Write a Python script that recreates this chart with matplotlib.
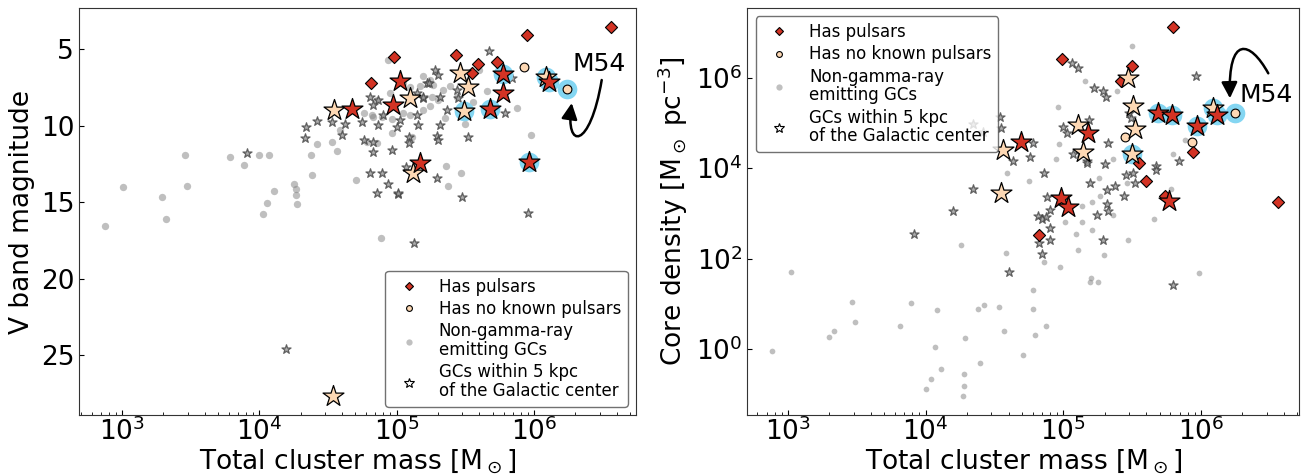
import matplotlib.pyplot as plt
from matplotlib.lines import Line2D
from matplotlib.patches import FancyArrowPatch
from matplotlib.path import Path

RED = '#d33324'
PEACH = '#fdd8b4'
HALO = '#84d6f2'

# ---------------- V band magnitude vs mass ----------------
# gamma-ray GCs with pulsars
v_psr_mass = [3.62e6, 8.85e5, 9.57e4, 2.69e5, 3.92e5, 5.36e5, 6.47e4, 3.52e5]
v_psr_mag = [3.54, 4.08, 5.50, 5.39, 5.98, 5.83, 7.20, 6.55]
# ... and within 5 kpc of the Galactic center
v_psr5_mass = [1.05e5, 4.75e4, 9.46e4, 1.48e5, 5.98e5, 5.89e5, 4.79e5, 1.29e6, 9.16e5]
v_psr5_mag = [7.09, 8.92, 8.66, 12.43, 6.63, 7.90, 8.94, 7.14, 12.41]
v_psr5_hl = [0, 0, 0, 0, 1, 0, 1, 1, 1]
# gamma-ray GCs without known pulsars
v_nop_mass = [8.51e5, 1.75e6]
v_nop_mag = [6.16, 7.61]
v_nop_hl = [0, 1]
v_nop5_mass = [3.52e4, 1.25e5, 2.90e5, 3.33e5, 3.11e5, 1.22e6, 1.32e5, 3.42e4]
v_nop5_mag = [8.99, 8.22, 6.59, 7.50, 9.05, 6.85, 13.13, 27.7]
v_nop5_hl = [0, 0, 0, 0, 1, 1, 0, 0]
# non gamma-ray GCs
v_gray_mass = [748, 1.02e3, 1.95e3, 2.09e3, 2.86e3, 2.97e3, 6.15e3, 7.69e3, 9.91e3,
               1.18e4, 1.27e4, 1.14e4, 1.06e4, 1.78e4, 1.85e4, 1.86e4, 1.89e4, 2.38e4,
               2.43e4, 2.62e4, 3.39e4, 3.66e4, 5.01e4, 7.62e4, 3.87e4, 7.16e4, 6.05e4,
               5.82e4, 6.76e4, 8.71e4, 9.25e4, 1.25e5, 1.29e5, 1.56e5, 1.48e5, 1.85e5,
               1.80e5, 1.75e5, 2.25e5, 2.45e5, 2.74e5, 3.62e5, 4.00e5, 4.53e5, 3.15e5,
               7.50e5, 9.53e5, 2.29e5, 2.94e5, 2.38e5, 6.58e4, 7.14e4, 8.93e4,
               1.12e5, 1.25e5, 1.32e5, 1.75e5, 1.12e5, 7.78e4, 9.20e4, 1.56e5, 2.01e5,
               2.18e5]
v_gray_mag = [16.55, 14.0, 14.65, 16.13, 11.9, 13.93, 12.04, 12.56, 11.9,
              11.9, 14.26, 15.07, 15.78, 13.82, 14.15, 14.56, 15.13, 11.9,
              13.24, 11.19, 11.1, 11.69, 13.58, 17.33, 10.29, 11.17, 11.06,
              9.2, 9.42, 5.72, 9.55, 9.31, 10.73, 6.76, 7.42, 7.35,
              8.12, 8.73, 9.53, 7.42, 8.12, 8.44, 6.37, 7.72, 9.9,
              8.88, 10.62, 12.65, 13.13, 13.93, 9.31, 8.33, 7.90,
              7.24, 7.50, 8.12, 7.03, 9.20, 9.42, 10.51, 8.99, 8.33,
              7.68]
v_gray5_mass = [8.18e3, 1.57e4, 2.16e4, 4.00e4, 5.73e4, 6.70e4, 6.76e4, 9.31e4, 6.37e4,
                7.83e4, 8.65e4, 7.16e4, 1.03e5, 2.18e4, 2.62e4, 3.40e4, 4.21e4, 6.40e4,
                7.36e4, 6.76e4, 5.57e4, 7.36e4, 7.93e4, 1.00e5, 1.06e5, 1.22e5, 1.17e5,
                1.44e5, 1.55e5, 1.66e5, 1.40e5, 4.71e5, 1.91e5, 2.01e5, 1.73e5, 2.07e5,
                2.74e5, 2.81e5, 2.32e5, 1.56e5, 1.40e5, 2.07e5, 1.96e5, 2.01e5, 3.30e5,
                6.17e5, 6.89e5, 1.22e5, 1.96e5, 2.98e5, 1.03e5, 9.06e5, 1.34e5]
v_gray5_mag = [11.8, 24.6, 10.8, 10.62, 10.95, 11.06, 11.71, 11.62, 13.08,
               13.1, 13.85, 14.43, 14.5, 10.12, 9.68, 9.75, 9.9, 8.12,
               8.33, 8.66, 9.75, 9.97, 9.31, 10.08, 9.64, 10.73, 12.69,
               9.97, 8.18, 7.24, 7.9, 5.11, 6.37, 6.7, 7.2, 8.12,
               7.68, 8.22, 8.99, 8.12, 9.31, 9.97, 10.69, 10.95, 10.73,
               9.2, 6.92, 11.12, 13.45, 14.7, 14.43, 15.7, 17.7]

# ---------------- core density vs mass ----------------
r_psr_mass = [6.28e5, 9.73e4, 3.18e5, 8.77e5, 3.57e5, 2.61e5, 3.96e5, 5.47e5, 3.60e6, 6.62e4]
r_psr_rho = [1.34e7, 2.55e6, 1.81e6, 2.32e4, 1.29e4, 8.45e5, 5.25e3, 2.36e3, 1.78e3, 325]
r_psr5_mass = [4.89e5, 6.11e5, 9.29e5, 1.30e6, 4.90e4, 1.52e5, 9.62e4, 1.09e5, 5.87e5]
r_psr5_rho = [1.64e5, 1.50e5, 8.59e4, 1.50e5, 3.86e4, 5.93e4, 2.18e3, 1.38e3, 1.83e3]
r_psr5_hl = [1, 1, 1, 1, 0, 0, 0, 0, 0]
r_nop_mass = [2.83e5, 8.67e5, 1.78e6]
r_nop_rho = [4.99e4, 3.86e4, 1.64e5]
r_nop_hl = [0, 0, 1]
r_nop5_mass = [2.93e5, 3.22e5, 1.27e5, 1.38e5, 3.62e4, 3.31e5, 3.16e5, 1.23e6, 3.52e4]
r_nop5_rho = [9.70e5, 2.37e5, 9.04e4, 2.32e4, 2.54e4, 7.26e4, 2.07e4, 2.11e5, 2.81e3]
r_nop5_hl = [0, 0, 0, 0, 0, 0, 1, 1, 0]
r_gray_mass = [3.18e5, 1.44e5, 2.44e5, 9.18e4, 9.33e4, 8.87e4, 6.22e5, 7.64e5, 2.28e5,
               3.92e4, 5.62e4, 1.36e5, 1.61e5, 1.82e5, 2.88e5, 2.30e5, 1.85e5, 1.36e5,
               1.03e5, 1.23e5, 1.62e5, 2.96e5, 1.28e5, 1.98e5, 1.82e4, 3.81e4, 7.23e4,
               9.44e4, 1.58e5, 1.57e5, 1.79e5, 5.98e4, 5.98e4, 7.87e3, 1.20e4, 2.41e4,
               2.67e4, 3.43e4, 7.48e4, 3.72e4, 6.22e4, 1.94e4, 1.17e4, 9.70e5, 4.55e5,
               6.01e5, 6.55e3, 1.05e3, 2.93e3, 3.07e3, 1.99e3, 2.16e3, 766, 1.30e4,
               1.09e4, 1.00e4, 1.91e4, 1.91e4, 1.86e4, 2.48e4, 5.12e4]
r_gray_rho = [5.08e6, 8.45e5, 5.16e5, 2.22e5, 3.39e4, 1.60e4, 2.07e4, 4.22e4, 1.58e4,
              7.76e3, 5.06e3, 1.42e3, 1.78e3, 6.19e3, 4.67e3, 931, 2.36e3, 630,
              630, 349, 435, 252, 157, 122, 195, 133, 84,
              65, 37, 30, 30, 20.6, 7.8, 10.5, 7.1, 7.7,
              9.3, 8.7, 3.3, 2.56, 2.09, 1.71, 1.10, 48, 760,
              3.44e3, 3.18, 49.5, 11.0, 4.05, 1.86, 2.52, 0.89, 0.366,
              0.212, 0.128, 0.284, 0.149, 0.093, 0.486, 0.745]
r_gray5_mass = [9.14e5, 1.15e5, 1.27e5, 1.67e5, 1.95e5, 2.04e5, 3.01e5, 3.10e5, 1.00e5,
                1.06e5, 1.54e5, 2.12e5, 3.47e4, 3.51e4, 2.62e4, 2.22e4, 5.98e4, 5.71e4,
                4.29e4, 1.17e5, 1.49e5, 2.00e5, 4.75e5, 6.95e5, 7.26e4, 2.22e4, 1.59e4,
                8.26e3, 7.57e4, 8.00e4, 6.50e4, 7.03e4, 7.45e4, 8.00e4, 8.00e4, 6.95e4,
                4.05e4, 1.56e5, 2.06e5, 2.08e5, 2.12e5, 1.77e5, 2.37e5, 2.75e5, 2.85e5,
                3.22e5, 3.31e5, 4.75e5, 1.93e5, 6.28e5, 1.32e5, 1.48e5, 6.68e4]
r_gray5_rho = [1.11e6, 2.14e6, 1.61e6, 5.83e5, 5.16e5, 3.69e5, 1.64e5, 1.27e5, 8.28e4,
               6.11e4, 1.16e5, 3.67e4, 1.38e5, 7.64e4, 6.43e4, 9.51e4, 3.56e4, 1.80e4,
               1.47e4, 2.07e4, 1.40e4, 1.24e4, 1.12e4, 1.47e4, 7.76e3, 3.49e3, 1.10e3,
               349, 2.24e3, 1.20e3, 885, 760, 811, 473, 261, 128,
               49.5, 4.67e3, 3.21e3, 1.60e3, 1.10e3, 931, 3.93e3, 2.36e3, 7.11e3,
               7.76e3, 4.67e3, 9.18e3, 261, 26.5, 2.14e4, 1.32e4, 221]

legend_labels = ['Has pulsars', 'Has no known pulsars', 'Non-gamma-ray\nemitting GCs',
                 'GCs within 5 kpc\nof the Galactic center']


def pick(vals, flags):
    return [v for v, f in zip(vals, flags) if f]


def draw_points(ax, gray, gray5, psr, psr5, nop, nop5, dot_size):
    ax.scatter(gray[0], gray[1], s=dot_size, color='gray', alpha=0.5, lw=0, zorder=1)
    ax.scatter(gray5[0], gray5[1], s=47, marker='*', facecolor='#9a9a9a',
               edgecolor='#444444', alpha=0.8, lw=0.9, zorder=2)
    # light blue discs behind the highlighted clusters
    for x, y, hl in (psr5, nop5, nop):
        ax.scatter(pick(x, hl), pick(y, hl), s=200, color=HALO, lw=0, zorder=3)
    ax.scatter(psr[0], psr[1], s=38, marker='D', color=RED, edgecolor='k', lw=0.8, zorder=4)
    ax.scatter(nop[0], nop[1], s=40, color=PEACH, edgecolor='k', lw=0.8, zorder=4)
    ax.scatter(nop5[0], nop5[1], s=250, marker='*', color=PEACH, edgecolor='k', lw=0.9, zorder=5)
    ax.scatter(psr5[0], psr5[1], s=250, marker='*', color=RED, edgecolor='k', lw=0.9, zorder=6)


def add_legend(ax, loc):
    handles = [
        Line2D([], [], ls='none', marker='D', ms=4.2, mfc=RED, mec='k', mew=0.8),
        Line2D([], [], ls='none', marker='o', ms=4.2, mfc=PEACH, mec='k', mew=0.8),
        Line2D([], [], ls='none', marker='o', ms=4.5, mfc='#c0c0c0', mec='none'),
        Line2D([], [], ls='none', marker='*', ms=7.8, mfc='white', mec='k', mew=0.8),
    ]
    leg = ax.legend(handles, legend_labels, loc=loc, fontsize=12, labelspacing=0.26)
    for t in leg.get_texts():
        t.set_linespacing(1.05)
    leg.get_frame().set_edgecolor('0.3')


def m54_arrow(ax, verts):
    codes = [Path.MOVETO, Path.CURVE4, Path.CURVE4, Path.CURVE4]
    arrow = FancyArrowPatch(path=Path(verts, codes), arrowstyle='-|>', mutation_scale=24,
                            lw=1.8, color='k', transform=ax.transAxes, zorder=7)
    ax.add_patch(arrow)


fig = plt.figure(figsize=(13.06, 4.75), dpi=100)
ax1 = fig.add_axes([0.0605, 0.1263, 0.4265, 0.8568])
ax2 = fig.add_axes([0.5722, 0.1263, 0.4224, 0.8568])

draw_points(ax1, (v_gray_mass, v_gray_mag), (v_gray5_mass, v_gray5_mag),
            (v_psr_mass, v_psr_mag), (v_psr5_mass, v_psr5_mag, v_psr5_hl),
            (v_nop_mass, v_nop_mag, v_nop_hl), (v_nop5_mass, v_nop5_mag, v_nop5_hl), 28)
ax1.set_xscale('log')
ax1.set_xlim(10 ** 2.687, 10 ** 6.742)
ax1.set_ylim(28.92, 2.32)
ax1.set_xlabel(r'Total cluster mass [M$_\odot$]', fontsize=19, labelpad=1)
ax1.set_ylabel('V band magnitude', fontsize=19)
add_legend(ax1, 'lower right')
ax1.annotate('M54', xy=(v_nop_mass[1], v_nop_mag[1]), xytext=(23, 18),
             textcoords='offset points', fontsize=18, ha='center', va='center')
m54_arrow(ax1, [(0.9384, 0.8231), (0.9174, 0.6511), (0.8725, 0.6511), (0.8846, 0.7666)])

draw_points(ax2, (r_gray_mass, r_gray_rho), (r_gray5_mass, r_gray5_rho),
            (r_psr_mass, r_psr_rho), (r_psr5_mass, r_psr5_rho, r_psr5_hl),
            (r_nop_mass, r_nop_rho, r_nop_hl), (r_nop5_mass, r_nop5_rho, r_nop5_hl), 17)
ax2.set_xscale('log')
ax2.set_yscale('log')
ax2.set_xlim(10 ** 2.704, 10 ** 6.712)
ax2.set_ylim(10 ** -1.46, 10 ** 7.54)
ax2.set_xlabel(r'Total cluster mass [M$_\odot$]', fontsize=19, labelpad=1)
ax2.set_ylabel(r'Core density [M$_\odot$ pc$^{-3}$]', fontsize=19)
add_legend(ax2, 'upper left')
ax2.annotate('M54', xy=(r_nop_mass[2], r_nop_rho[2]), xytext=(22, 13),
             textcoords='offset points', fontsize=18, ha='center', va='center')
m54_arrow(ax2, [(0.9444, 0.8396), (0.9112, 0.9214), (0.8713, 0.9337), (0.8749, 0.7781)])

for ax in (ax1, ax2):
    ax.tick_params(which='both', direction='in', labelsize=19)
    ax.tick_params(axis='x', which='both', pad=2)
    for sp in ax.spines.values():
        sp.set_color('0.2')

fig.savefig('out.png', dpi=100)
